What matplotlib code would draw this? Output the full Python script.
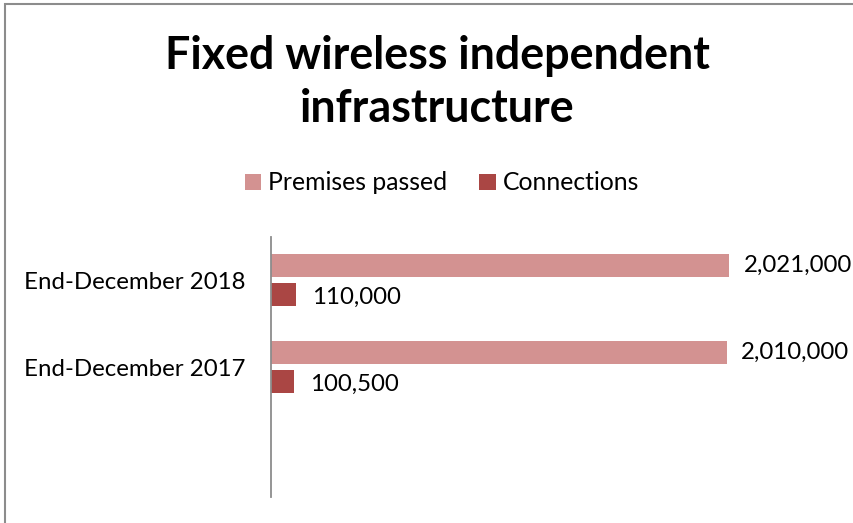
import numpy as np
import matplotlib.pyplot as plt
from matplotlib.patches import Rectangle

plt.rcParams['font.family'] = ['Lato', 'DejaVu Sans']

categories = ['End-December 2018', 'End-December 2017']
premises = [2021000, 2010000]
connections = [110000, 100500]
series_names = ['Premises passed', 'Connections']

c_prem = '#D39291'
c_conn = '#AA4644'

W, H = 854, 523
fig = plt.figure(figsize=(W / 100, H / 100), dpi=100)

# outer chart border (runs off the right and bottom edge)
fig.patches.append(Rectangle((5 / W, -0.2), 2, 1.2 - 3.5 / H, transform=fig.transFigure,
                             fill=False, edgecolor='#8c8c8c', linewidth=1.5))

ax = fig.add_axes([271 / W, 26 / H, 566.6 / W, 260 / H])

y = np.arange(len(categories))
bh = 0.265
off = 0.169
ax.barh(y - off, premises, height=bh, color=c_prem, label=series_names[0])
ax.barh(y + off, connections, height=bh, color=c_conn, label=series_names[1])

fs = 17.3
for yi, v in zip(y, premises):
    ax.text(v + 65000, yi - off, f'{v:,}', va='center', ha='left', fontsize=fs)
for yi, v in zip(y, connections):
    ax.text(v + 70000, yi + off + 0.03, f'{v:,}', va='center', ha='left', fontsize=fs)

ax.set_xlim(0, 2500000)
ax.set_ylim(2.5, -0.5)
ax.set_yticks(y)
ax.set_yticklabels(categories, fontsize=fs)
ax.tick_params(axis='y', length=0, pad=18)
ax.set_xticks([])
for s in ['top', 'right', 'bottom']:
    ax.spines[s].set_visible(False)
ax.spines['left'].set_color('#8c8c8c')
ax.spines['left'].set_linewidth(1.3)

fig.text(437 / W, 1 - 56 / H, 'Fixed wireless independent', ha='center', va='center',
         fontsize=32.3, fontweight='bold')
fig.text(437 / W, 1 - 109 / H, 'infrastructure', ha='center', va='center',
         fontsize=32.3, fontweight='bold')

fig.legend(loc='center', bbox_to_anchor=(442 / W, 1 - 183 / H), ncol=2, frameon=False,
           fontsize=17.8, handlelength=0.65, handleheight=0.65, handletextpad=0.3,
           columnspacing=1.3)

fig.savefig('out.png', dpi=100)
